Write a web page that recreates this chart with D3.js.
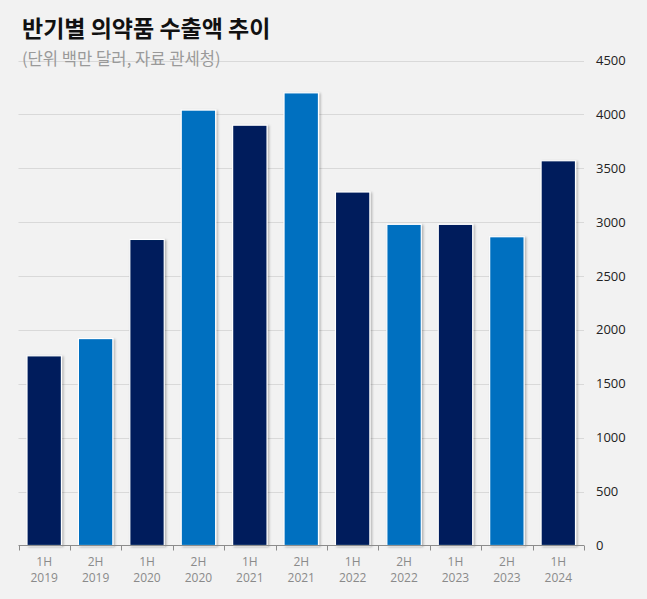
<!DOCTYPE html>
<html><head><meta charset="utf-8">
<script src="https://cdn.jsdelivr.net/npm/d3@7"></script>
<style>
html,body{margin:0;padding:0;background:#f2f2f2;}
svg{display:block;}
</style></head>
<body>
<script>
const periods = ["1H","2H","1H","2H","1H","2H","1H","2H","1H","2H","1H"];
const years = ["2019","2019","2020","2020","2021","2021","2022","2022","2023","2023","2024"];
const values = [1760, 1920, 2840, 4040, 3900, 4200, 3280, 2980, 2980, 2865, 3570];
const yTicks = [0,500,1000,1500,2000,2500,3000,3500,4000,4500];
const title = "반기별 의약품 수출액 추이";
const subtitle = "(단위 백만 달러, 자료 관세청)";

const W = 647, H = 599;
const svg = d3.select("body").append("svg").attr("width", W).attr("height", H);
svg.append("rect").attr("width", W).attr("height", H).attr("fill", "#f2f2f2");

const defs = svg.append("defs");
const f = defs.append("filter").attr("id","sh").attr("x","-20%").attr("y","-5%").attr("width","150%").attr("height","115%");
f.append("feDropShadow").attr("dx",1.5).attr("dy",1).attr("stdDeviation",1.2).attr("flood-color","#000").attr("flood-opacity",0.28);

const x0 = 18.5, x1 = 584, yBase = 545.5, yTop = 60.5;
const x = d3.scaleBand().domain(d3.range(values.length)).range([x0, x1]).paddingInner(0.33).paddingOuter(0.165);
const y = d3.scaleLinear().domain([0, 4500]).range([yBase, yTop]);

// grid
svg.append("g").selectAll("line").data(yTicks.filter(d => d > 0)).join("line")
  .attr("x1", x0).attr("x2", x1)
  .attr("y1", d => Math.round(y(d)) + 0.5).attr("y2", d => Math.round(y(d)) + 0.5)
  .attr("stroke", "#d9d9d9").attr("stroke-width", 1);

// y labels
svg.append("g").selectAll("text").data(yTicks).join("text")
  .attr("x", 596).attr("y", d => y(d)).attr("dy", "0.35em")
  .attr("font-family", "'Open Sans','Noto Sans',sans-serif").attr("font-size", 13)
  .attr("fill", "#222").text(d => d);

// bars
svg.append("g").selectAll("rect").data(values).join("rect")
  .attr("x", (d, i) => x(i)).attr("width", x.bandwidth())
  .attr("y", d => y(d)).attr("height", d => yBase - y(d))
  .attr("fill", (d, i) => i % 2 === 0 ? "#001f5c" : "#0070c0")
  .attr("stroke", "#ffffff").attr("stroke-width", 1.2)
  .attr("filter", "url(#sh)");

// x axis
const axisG = svg.append("g");
axisG.append("line").attr("x1", x0).attr("x2", x1).attr("y1", yBase).attr("y2", yBase)
  .attr("stroke", "#8c8c8c").attr("stroke-width", 1);
const bounds = d3.range(values.length + 1).map(i => x0 + i * (x1 - x0) / values.length);
axisG.selectAll("line.tk").data(bounds).join("line").attr("class","tk")
  .attr("x1", d => Math.round(d) + 0.5).attr("x2", d => Math.round(d) + 0.5)
  .attr("y1", yBase).attr("y2", yBase + 5)
  .attr("stroke", "#8c8c8c").attr("stroke-width", 1);

const lab = axisG.selectAll("text.xl").data(values).join("text").attr("class","xl")
  .attr("text-anchor", "middle")
  .attr("font-family", "'Open Sans','Noto Sans',sans-serif").attr("font-size", 12)
  .attr("fill", "#8a8a8a");
lab.append("tspan").attr("x", (d, i) => x(i) + x.bandwidth() / 2).attr("y", 566).text((d, i) => periods[i]);
lab.append("tspan").attr("x", (d, i) => x(i) + x.bandwidth() / 2).attr("y", 582).text((d, i) => years[i]);

// titles
svg.append("text").attr("x", 22).attr("y", 37)
  .attr("font-family", "'Noto Sans CJK KR',sans-serif").attr("font-weight", 700)
  .attr("font-size", 23).attr("fill", "#111").text(title);
svg.append("text").attr("x", 22).attr("y", 65)
  .attr("font-family", "'Noto Sans CJK KR',sans-serif").attr("font-weight", 400)
  .attr("font-size", 16.6).attr("fill", "#9a9a9a").text(subtitle);
</script>
</body></html>
